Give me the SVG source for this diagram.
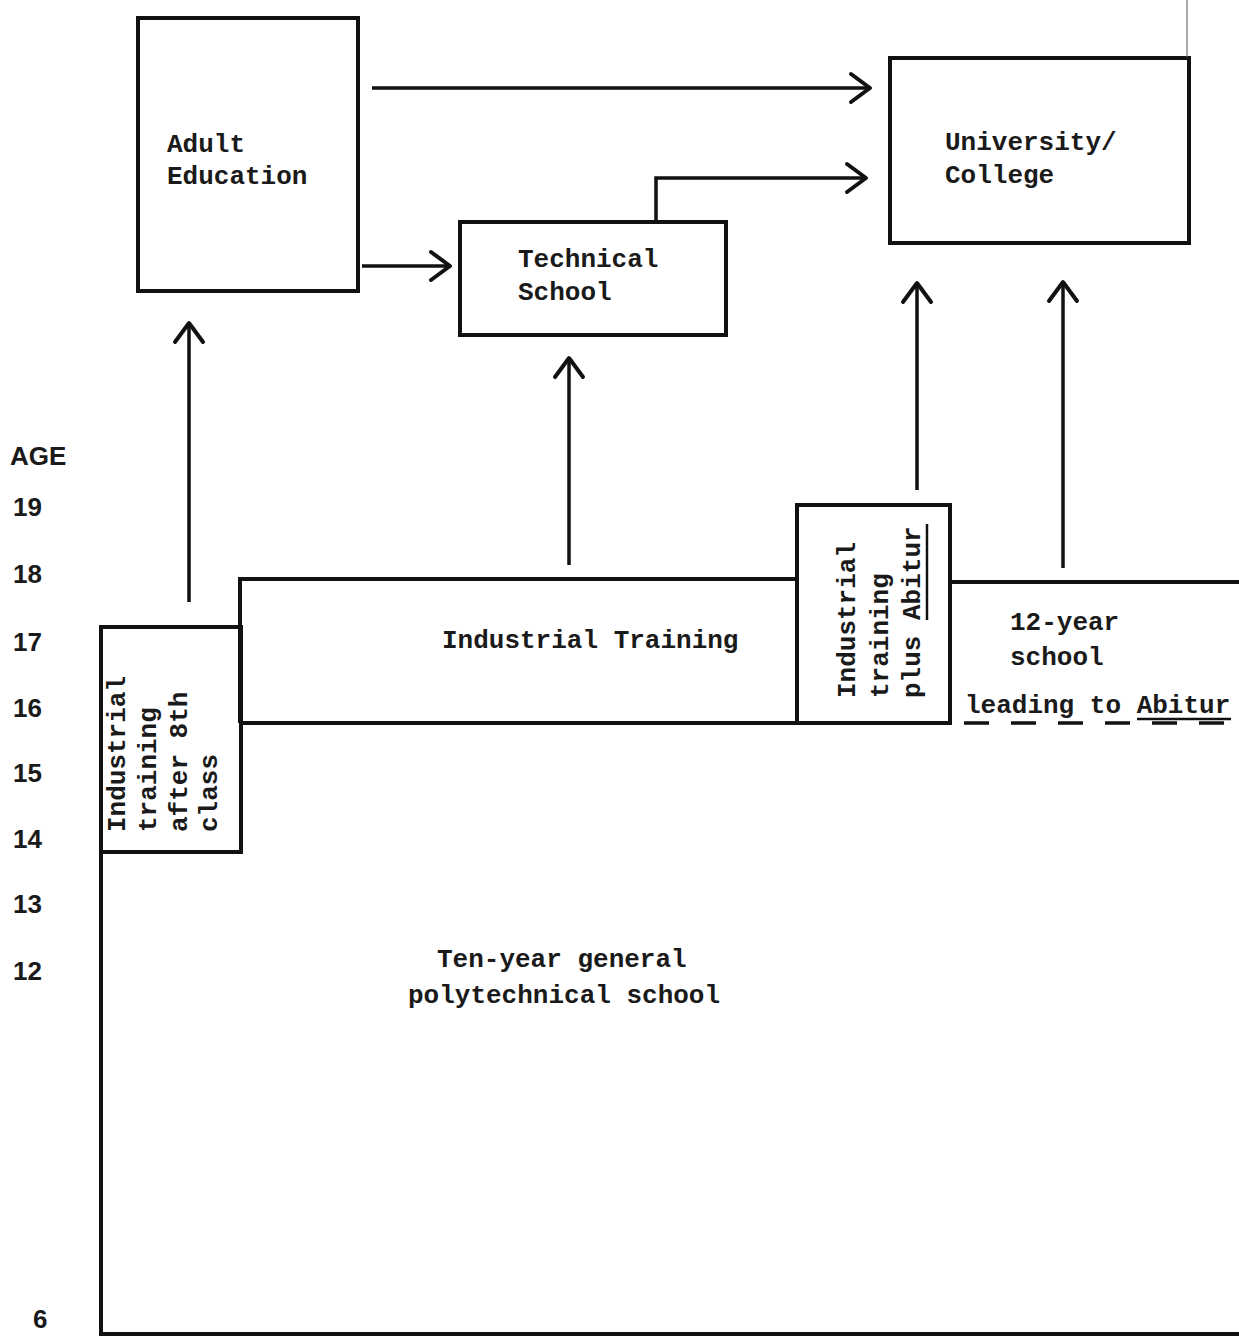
<svg xmlns="http://www.w3.org/2000/svg" width="1239" height="1337" viewBox="0 0 1239 1337">
<style>
.box{fill:none;stroke:#111;stroke-width:4;stroke-linejoin:miter}
.ln{fill:none;stroke:#111;stroke-width:4}
.con{fill:none;stroke:#111;stroke-width:3.5}
.t{font-family:"Liberation Mono","DejaVu Sans Mono",monospace;font-size:26px;font-weight:bold;fill:#1a1a1a}
.age{font-family:"Liberation Sans","DejaVu Sans",sans-serif;font-size:26px;font-weight:bold;fill:#1a1a1a}
</style>
<defs>
<marker id="arr" markerUnits="userSpaceOnUse" markerWidth="40" markerHeight="40" viewBox="-25 -20 30 40" refX="0" refY="0" orient="auto">
<path d="M-19,-14 L0,0 L-19,14" fill="none" stroke="#111" stroke-width="4" stroke-linecap="round" stroke-linejoin="round"/>
</marker>
</defs>
<rect width="1239" height="1337" fill="#fff"/>

<g id="age-axis">
<text class="age" x="10" y="465" font-size="23">AGE</text>
<text class="age" x="13" y="516">19</text>
<text class="age" x="13" y="583">18</text>
<text class="age" x="13" y="651">17</text>
<text class="age" x="13" y="717">16</text>
<text class="age" x="13" y="782">15</text>
<text class="age" x="13" y="848">14</text>
<text class="age" x="13" y="913">13</text>
<text class="age" x="13" y="980">12</text>
<text class="age" x="33" y="1328" font-size="22">6</text>
</g>

<g id="adult-education">
<rect class="box" x="138" y="18" width="220" height="273"/>
<text class="t" x="167" y="152">Adult</text>
<text class="t" x="167" y="184">Education</text>
</g>

<g id="technical-school">
<rect class="box" x="460" y="222" width="266" height="113"/>
<text class="t" x="518" y="267">Technical</text>
<text class="t" x="518" y="300">School</text>
</g>

<g id="university-college">
<rect class="box" x="890" y="58" width="299" height="185"/>
<text class="t" x="945" y="150">University/</text>
<text class="t" x="945" y="183">College</text>
<line x1="1187" y1="0" x2="1187" y2="58" stroke="#555" stroke-width="1"/>
</g>

<g id="industrial-training-8th">
<rect class="box" x="101" y="627" width="140" height="225"/>
<text class="t" transform="translate(125,832) rotate(-90)"><tspan x="0" y="0">Industrial</tspan><tspan x="0" y="31">training</tspan><tspan x="0" y="62">after 8th</tspan><tspan x="0" y="92">class</tspan></text>
</g>

<g id="industrial-training">
<path class="ln" d="M240,723 V579 H797"/>
<text class="t" x="442" y="648">Industrial Training</text>
</g>

<g id="industrial-training-abitur">
<rect class="box" x="797" y="505" width="153" height="218"/>
<text class="t" transform="translate(855,698) rotate(-90)"><tspan x="0" y="0">Industrial</tspan><tspan x="0" y="33">training</tspan><tspan x="0" y="65">plus Abitur</tspan></text>
<line x1="927" y1="620" x2="927" y2="524" stroke="#111" stroke-width="2.5"/>
</g>

<g id="twelve-year-school">
<path class="ln" d="M950,582 H1239"/>
<line x1="964" y1="723" x2="1239" y2="723" stroke="#111" stroke-width="3.5" stroke-dasharray="25 22"/>
<text class="t" x="1010" y="630">12-year</text>
<text class="t" x="1010" y="665">school</text>
<text class="t" x="965" y="713">leading to Abitur</text>
<line x1="1137" y1="719" x2="1231" y2="719" stroke="#111" stroke-width="2.5"/>
</g>

<g id="polytechnical-school">
<path class="ln" d="M241,723 H952"/>
<path class="ln" d="M101,852 V1334 H1239"/>
<text class="t" x="437" y="967">Ten-year general</text>
<text class="t" x="408" y="1003">polytechnical school</text>
</g>

<g id="connectors">
<line class="con" x1="372" y1="88" x2="870" y2="88" marker-end="url(#arr)"/>
<line class="con" x1="362" y1="266" x2="450" y2="266" marker-end="url(#arr)"/>
<path class="con" d="M656,222 V178 H866" marker-end="url(#arr)"/>
<line class="con" x1="189" y1="602" x2="189" y2="323" marker-end="url(#arr)"/>
<line class="con" x1="569" y1="565" x2="569" y2="358" marker-end="url(#arr)"/>
<line class="con" x1="917" y1="490" x2="917" y2="283" marker-end="url(#arr)"/>
<line class="con" x1="1063" y1="568" x2="1063" y2="282" marker-end="url(#arr)"/>
</g>
</svg>
